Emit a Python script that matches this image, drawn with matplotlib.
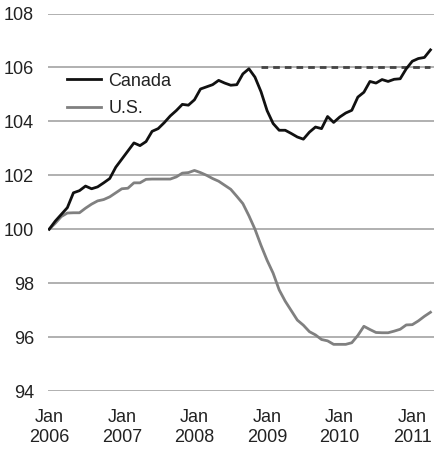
import matplotlib
matplotlib.use("Agg")
import matplotlib.pyplot as plt
import numpy as np

plt.rcParams['font.family'] = ['Liberation Sans', 'DejaVu Sans']

# Monthly index values, Jan 2006 = 100, Jan 2006 .. Apr 2011
canada = [100.0, 100.3, 100.55, 100.8, 101.35, 101.43, 101.6, 101.5, 101.57, 101.72,
          101.88, 102.3, 102.6, 102.9, 103.2, 103.1, 103.25, 103.63, 103.73, 103.95,
          104.2, 104.4, 104.63, 104.6, 104.8, 105.2, 105.28, 105.36, 105.52, 105.42,
          105.34, 105.36, 105.76, 105.95, 105.64, 105.1, 104.4, 103.92, 103.67, 103.67,
          103.55, 103.42, 103.34, 103.6, 103.79, 103.73, 104.18, 103.96, 104.16, 104.31,
          104.41, 104.9, 105.08, 105.48, 105.42, 105.55, 105.48, 105.56, 105.58, 105.95,
          106.23, 106.33, 106.37, 106.65]
us = [100.0, 100.22, 100.47, 100.6, 100.61, 100.61, 100.78, 100.93, 101.05, 101.1,
      101.2, 101.35, 101.5, 101.52, 101.72, 101.72, 101.85, 101.86, 101.86, 101.86,
      101.86, 101.94, 102.08, 102.1, 102.18, 102.1, 102.0, 101.88, 101.78, 101.63,
      101.48, 101.22, 100.95, 100.5, 100.0, 99.4, 98.85, 98.37, 97.75, 97.33,
      96.98, 96.63, 96.44, 96.2, 96.08, 95.91, 95.86, 95.73, 95.73, 95.73,
      95.79, 96.06, 96.4, 96.28, 96.17, 96.16, 96.16, 96.22, 96.29, 96.45,
      96.46, 96.6, 96.77, 96.92]
series_labels = ["Canada", "U.S."]
tick_labels = ["Jan\n2006", "Jan\n2007", "Jan\n2008", "Jan\n2009", "Jan\n2010", "Jan\n2011"]
tick_months = [0, 12, 24, 36, 48, 60]
ref_level = 106
ref_start = 35
y_ticks = [94, 96, 98, 100, 102, 104, 106, 108]

months = np.arange(len(canada))

fig = plt.figure(figsize=(4.35, 4.51), dpi=100)
ax = fig.add_axes([48/435, 1 - 391/451, (435-48)/435, (391-13.5)/451])

for yv in y_ticks:
    ax.axhline(yv, color='#b0b0b0', lw=1.4, zorder=1)

ax.plot([ref_start, months[-1]], [ref_level, ref_level], color='#444444', lw=2.0,
        dashes=(2.4, 1.8), zorder=2)
ax.plot(months, us, color='#808080', lw=2.0, label=series_labels[1], zorder=3)
ax.plot(months, canada, color='#111111', lw=2.0, label=series_labels[0], zorder=4)

ax.set_xlim(-0.2, 63.75)
ax.set_ylim(94, 108)
ax.set_yticks(y_ticks)
ax.set_yticklabels([str(v) for v in y_ticks])
ax.set_xticks(tick_months)
ax.set_xticklabels(tick_labels, linespacing=1.2)
ax.tick_params(axis='y', length=0, pad=10, labelsize=13, labelcolor='#222222')
ax.tick_params(axis='x', length=0, pad=13, labelsize=13, labelcolor='#222222')
for s in ax.spines.values():
    s.set_visible(False)

handles, labels = ax.get_legend_handles_labels()
leg = ax.legend(handles[::-1], labels[::-1], loc='upper left', bbox_to_anchor=(0.049, 0.843),
                frameon=False, fontsize=13, handlelength=1.9, handletextpad=0.4,
                labelspacing=0.57, borderaxespad=0, borderpad=0)
for t in leg.get_texts():
    t.set_color('#222222')

fig.savefig("out.png", dpi=100)
